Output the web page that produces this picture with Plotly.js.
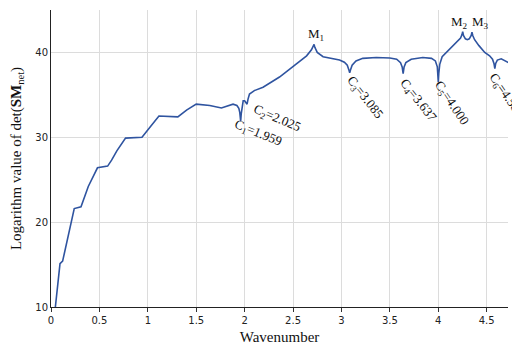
<!DOCTYPE html>
<html>
<head>
<meta charset="utf-8">
<script src="https://cdn.plot.ly/plotly-3.0.1.min.js"></script>
<style>html,body{margin:0;padding:0;background:#fff;}#chart{width:512px;height:349px;}</style>
</head>
<body>
<div id="chart"></div>
<script>
var wavenumber = [0.045,0.07,0.093,0.12,0.16,0.19,0.24,0.31,0.385,0.48,0.585,0.626,0.68,0.77,0.94,1.03,1.115,1.31,1.40,1.50,1.64,1.76,1.82,1.88,1.92,1.94,1.95,1.959,1.965,1.975,1.985,2.00,2.015,2.025,2.035,2.05,2.10,2.19,2.36,2.45,2.57,2.64,2.69,2.71,2.717,2.725,2.75,2.81,2.90,2.98,3.03,3.06,3.075,3.085,3.095,3.11,3.15,3.22,3.36,3.50,3.57,3.61,3.627,3.637,3.647,3.665,3.72,3.84,3.93,3.97,3.99,3.996,4.000,4.005,4.015,4.04,4.10,4.15,4.20,4.23,4.245,4.252,4.26,4.28,4.30,4.32,4.34,4.348,4.356,4.375,4.42,4.48,4.53,4.56,4.575,4.584,4.593,4.61,4.65,4.70,4.74];
var logDet = [10,12.5,15.1,15.4,17.6,19.1,21.6,21.8,24.2,26.4,26.6,27.3,28.4,29.9,30.0,31.3,32.5,32.4,33.2,33.9,33.75,33.45,33.7,33.9,33.75,33.4,32.9,31.9,32.8,33.8,34.3,34.3,34.1,33.9,34.5,35.1,35.5,35.9,37.1,37.9,38.9,39.6,40.3,40.7,40.95,40.6,40.0,39.5,39.3,39.1,38.85,38.5,38.0,37.6,38.0,38.5,39.0,39.3,39.4,39.35,39.2,38.8,38.3,37.5,38.3,38.8,39.2,39.4,39.3,39.0,38.3,37.5,36.5,37.5,38.6,39.5,40.2,40.8,41.3,41.7,42.1,42.45,42.0,41.6,41.5,41.6,42.0,42.4,42.0,41.5,40.8,40.0,39.6,39.2,38.7,38.1,38.7,39.1,39.25,39.0,38.7];

var labelTexts = ["M<sub>1</sub>","M<sub>2</sub>","M<sub>3</sub>","C<sub>1</sub>=1.959","C<sub>2</sub>=2.025","C<sub>3</sub>=3.085","C<sub>4</sub>=3.637","C<sub>5</sub>=4.000","C<sub>6</sub>=4.584"];
var labelX = [2.735,4.216,4.44,2.14,2.33,3.24,3.79,4.135,4.70];
var labelY = [42.1,43.5,43.5,30.4,32.2,34.7,34.35,33.96,34.9];
var labelAngle = [0,0,0,22,23,52,52,56,55];

var xTicks = [0,0.5,1,1.5,2,2.5,3,3.5,4,4.5];
var xTickText = ["0","0.5","1","1.5","2","2.5","3","3.5","4","4.5"];
var yTicks = [10,20,30,40];

var annotations = labelTexts.map(function(t,i){
  return {x:labelX[i], y:labelY[i], xref:'x', yref:'y', text:t, showarrow:false,
    textangle:labelAngle[i], font:{family:'Liberation Serif, serif', size:13, color:'#111'}};
});

var trace = {x:wavenumber, y:logDet, mode:'lines', type:'scatter',
  line:{color:'#2F54A0', width:1.6}, hoverinfo:'skip'};

var layout = {
  width:512, height:349,
  margin:{l:51, r:4, t:10, b:42},
  paper_bgcolor:'#fff', plot_bgcolor:'#fff',
  showlegend:false,
  xaxis:{range:[0,4.72], tickvals:xTicks, ticktext:xTickText, ticks:'outside', ticklen:4, tickcolor:'#333',
    showgrid:true, gridcolor:'#dcdcdc', gridwidth:1, showline:true, linecolor:'#222', linewidth:1,
    zeroline:false, tickfont:{family:'DejaVu Sans, sans-serif', size:10, color:'#222'},
    title:{text:'Wavenumber', font:{family:'Liberation Serif, serif', size:15, color:'#111'}, standoff:6}},
  yaxis:{range:[10,45], tickvals:yTicks, ticks:'', showgrid:true, gridcolor:'#dcdcdc', gridwidth:1,
    showline:true, linecolor:'#222', linewidth:1, zeroline:false,
    tickfont:{family:'DejaVu Sans, sans-serif', size:10, color:'#222'},
    title:{text:'Logarithm value of det(<b>SM</b><sub>net</sub>)', font:{family:'Liberation Serif, serif', size:15, color:'#111'}, standoff:10}},
  annotations:annotations
};

Plotly.newPlot('chart',[trace],layout,{displayModeBar:false, staticPlot:true});
</script>
</body>
</html>
